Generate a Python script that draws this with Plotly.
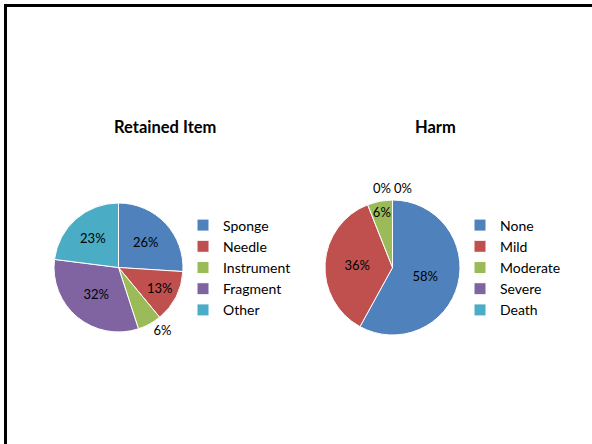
import math
import plotly.graph_objects as go

retained_labels = ["Sponge", "Needle", "Instrument", "Fragment", "Other"]
retained_values = [26, 13, 6, 32, 23]
retained_textpos = ["inside", "inside", "outside", "inside", "inside"]

harm_labels = ["None", "Mild", "Moderate", "Severe", "Death"]
harm_values = [58, 36, 6, 0, 0]
harm_textpos = ["inside", "inside", "inside", "none", "none"]

colors = ["#4F81BD", "#C0504D", "#9BBB59", "#8064A2", "#4BACC6"]

W, H = 592, 444
FONT = "Lato"

def dom(cx, cy, r):
    return dict(x=[(cx - r) / W, (cx + r) / W], y=[1 - (cy + r) / H, 1 - (cy - r) / H])

fig = go.Figure()
fig.add_trace(go.Pie(
    labels=retained_labels, values=retained_values, sort=False, direction="clockwise",
    rotation=0, marker=dict(colors=colors, line=dict(color="white", width=1)),
    texttemplate="%{percent:.0%}", textposition=retained_textpos,
    insidetextorientation="horizontal",
    textfont=dict(family=FONT, size=13, color="black"),
    domain=dom(118.5, 267.5, 64.5), legend="legend", hoverinfo="label+percent",
))
H_CX, H_CY, H_R = 392.5, 267.5, 67.5
fig.add_trace(go.Pie(
    labels=harm_labels, values=harm_values, sort=False, direction="clockwise",
    rotation=0, marker=dict(colors=colors, line=dict(color="white", width=1)),
    texttemplate="%{percent:.0%}", textposition=harm_textpos,
    insidetextorientation="horizontal",
    textfont=dict(family=FONT, size=13, color="black"),
    domain=dom(H_CX, H_CY, H_R), legend="legend2", hoverinfo="label+percent",
))

# outside labels for zero-valued harm slices, placed at their angle (side by side)
annotations = []
total = sum(harm_values)
cum = 0
zero_idx = 0
zero_count = sum(1 for v in harm_values if v == 0)
for v in harm_values:
    mid = cum + v / 2
    cum += v
    if v == 0:
        ang = 2 * math.pi * mid / total
        px = H_CX + (H_R + 12) * math.sin(ang) + (zero_idx - (zero_count - 1) / 2) * 21
        py = H_CY - (H_R + 12) * math.cos(ang)
        annotations.append(dict(text=f"{v / total:.0%}", x=px / W, y=1 - py / H,
                                xref="paper", yref="paper", showarrow=False,
                                xanchor="center", yanchor="middle",
                                font=dict(family=FONT, size=13, color="black")))
        zero_idx += 1

annotations += [
    dict(text="<b>Retained Item</b>", x=165 / W, y=1 - 127 / H, xref="paper", yref="paper",
         xanchor="center", yanchor="middle", showarrow=False,
         font=dict(family=FONT, size=16.5, color="black")),
    dict(text="<b>Harm</b>", x=435 / W, y=1 - 127 / H, xref="paper", yref="paper",
         xanchor="center", yanchor="middle", showarrow=False,
         font=dict(family=FONT, size=16.5, color="black")),
]

legend_common = dict(font=dict(family=FONT, size=14, color="black"), bgcolor="rgba(0,0,0,0)",
                     yanchor="middle", xanchor="left", traceorder="normal")
fig.update_layout(
    width=W, height=H, margin=dict(l=0, r=0, t=0, b=0),
    paper_bgcolor="white", plot_bgcolor="white",
    uniformtext=dict(minsize=13, mode="show"),
    legend=dict(x=183 / W, y=1 - 267.5 / H, **legend_common),
    legend2=dict(x=460 / W, y=1 - 267.5 / H, **legend_common),
    annotations=annotations,
    shapes=[dict(type="rect", xref="paper", yref="paper", x0=5.5 / W, x1=1.05,
                 y0=-0.05, y1=1 - 5.5 / H, line=dict(color="black", width=3))],
)
fig.write_html("out.html", config={"displayModeBar": False},
               post_script="document.body.style.margin='0';document.body.style.overflow='hidden';")
